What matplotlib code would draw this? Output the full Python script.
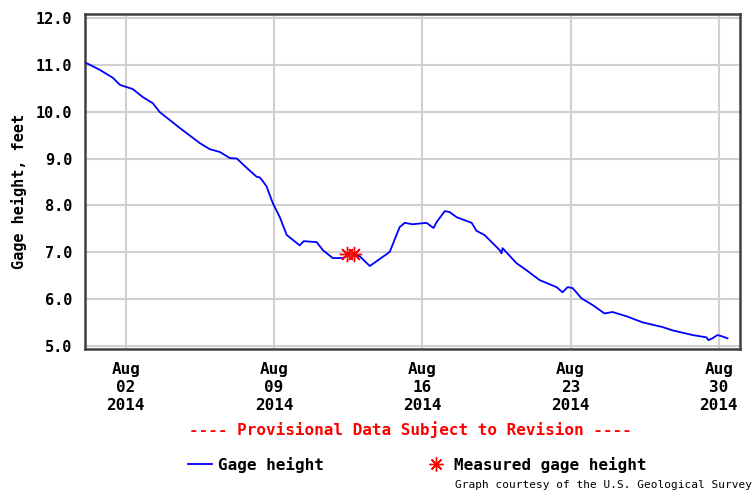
import matplotlib.pyplot as plt
from matplotlib.lines import Line2D

# day of August (Aug 1 00:00 = 1.0) and gage height in feet
days = [
    0.07, 0.77, 1.39, 1.72, 2.33, 2.80, 3.27, 3.60, 4.55, 5.49, 5.96, 6.44,
    6.91, 7.24, 7.71, 8.18, 8.32, 8.50, 8.65, 8.94, 9.27, 9.60, 10.07, 10.21,
    10.40, 11.01, 11.30, 11.77, 12.24, 12.57, 13.04, 13.52, 13.99, 14.46,
    14.93, 15.17, 15.54, 16.20, 16.53, 16.68, 17.06, 17.29, 17.62, 18.33,
    18.56, 18.94, 19.65, 19.74, 19.79, 20.45, 20.92, 21.54, 22.34, 22.62,
    22.86, 23.10, 23.52, 24.04, 24.60, 24.98, 25.64, 26.40, 27.34, 27.81,
    28.76, 29.42, 29.51, 29.70, 29.94, 30.17, 30.41,
]
gage = [
    11.05, 10.89, 10.72, 10.57, 10.48, 10.31, 10.18, 9.99, 9.65, 9.33, 9.20,
    9.14, 9.01, 9.00, 8.80, 8.61, 8.60, 8.50, 8.40, 8.05, 7.75, 7.37, 7.20,
    7.15, 7.24, 7.22, 7.05, 6.88, 6.88, 6.96, 6.92, 6.71, 6.86, 7.01, 7.54,
    7.63, 7.60, 7.63, 7.52, 7.65, 7.88, 7.86, 7.75, 7.63, 7.46, 7.37, 7.05,
    6.98, 7.09, 6.77, 6.62, 6.41, 6.26, 6.15, 6.26, 6.24, 6.02, 5.88, 5.70,
    5.73, 5.64, 5.51, 5.41, 5.34, 5.24, 5.19, 5.13, 5.17, 5.24, 5.21, 5.17,
]

measured_days = [12.43, 12.78]
measured_gage = [6.96, 6.96]

tick_days = [2, 9, 16, 23, 30]
tick_labels = ["Aug\n02\n2014", "Aug\n09\n2014", "Aug\n16\n2014",
               "Aug\n23\n2014", "Aug\n30\n2014"]
y_ticks = [5.0, 6.0, 7.0, 8.0, 9.0, 10.0, 11.0, 12.0]

mono = "DejaVu Sans Mono"
asterisk = (8, 2, 0)

fig = plt.figure(figsize=(7.56, 4.91), dpi=100)
ax = fig.add_axes([0.1124, 0.289, 0.8664, 0.6825])

ax.plot(days, gage, color="#0000ff", lw=1.3, zorder=3)
ax.plot(measured_days, measured_gage, ls="none", marker=asterisk,
        ms=11, mec="#ff0000", mew=1.0, zorder=4)

ax.set_xlim(0.07, 31.0)
ax.set_ylim(4.94, 12.08)
ax.set_xticks(tick_days)
ax.set_xticklabels(tick_labels, fontfamily=mono, fontweight="bold",
                   fontsize=11.5, linespacing=1.25)
ax.set_yticks(y_ticks)
ax.set_yticklabels([f"{v:.1f}" for v in y_ticks], fontfamily=mono,
                   fontweight="bold", fontsize=11)
ax.tick_params(axis="x", length=0, pad=9)
ax.tick_params(axis="y", length=0, pad=9)

ax.grid(True, color="#d0d0d0", lw=1.5)
ax.set_axisbelow(True)
for s in ax.spines.values():
    s.set_color("#404040")
    s.set_linewidth(1.8)

ax.set_ylabel("Gage height, feet", fontfamily=mono, fontweight="bold",
              fontsize=11)
ax.yaxis.set_label_coords(-0.088, 0.47)

fig.text(0.543, 0.126, "---- Provisional Data Subject to Revision ----",
         color="#ff0000", fontfamily=mono, fontweight="bold", fontsize=11.5,
         ha="center", va="center")

handles = [
    Line2D([], [], color="#0000ff", lw=1.3),
    Line2D([], [], ls="none", marker=asterisk, ms=10, mec="#ff0000", mew=1.0),
]
fig.legend(handles, ["Gage height", "Measured gage height"], ncol=2,
           loc="center", bbox_to_anchor=(0.552, 0.053), frameon=False,
           handlelength=1.5, handletextpad=0.35, columnspacing=6.3,
           prop={"family": mono, "weight": "bold", "size": 11.5})

fig.text(0.602, 0.022, "Graph courtesy of the U.S. Geological Survey",
         fontfamily=mono, fontsize=8, ha="left", va="top")

fig.savefig("out.png", dpi=100)
